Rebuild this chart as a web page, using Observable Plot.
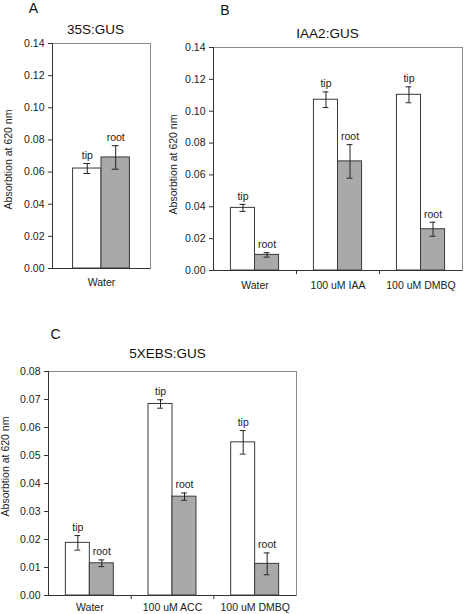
<!DOCTYPE html>
<html>
<head>
<meta charset="utf-8">
<script src="https://cdn.jsdelivr.net/npm/d3@7"></script>
<script src="https://cdn.jsdelivr.net/npm/@observablehq/plot@0.6"></script>
<style>
  html, body { margin: 0; padding: 0; background: #fff; }
  #wrap { position: relative; width: 464px; height: 614px; overflow: hidden; background: #fff; }
  #wrap > div { position: absolute; }
</style>
</head>
<body>
<div id="wrap">
  <div id="pa" style="left:0px;top:0px"></div>
  <div id="pb" style="left:160px;top:0px"></div>
  <div id="pc" style="left:0px;top:310px"></div>
</div>
<script>
// ---- Data ----
const yLabel = "Absorbtion at 620 nm";

const aLetter = "A";
const aTitle = "35S:GUS";
const aCategories = ["Water"];
const aTip = [0.0622];
const aTipErr = [0.0031];
const aRoot = [0.0691];
const aRootErr = [0.0073];
const aYTicks = [0, 0.02, 0.04, 0.06, 0.08, 0.10, 0.12, 0.14];

const bLetter = "B";
const bTitle = "IAA2:GUS";
const bCategories = ["Water", "100 uM IAA", "100 uM DMBQ"];
const bTip = [0.0393, 0.1072, 0.1103];
const bTipErr = [0.0022, 0.0049, 0.0050];
const bRoot = [0.0098, 0.0685, 0.0259];
const bRootErr = [0.0014, 0.0105, 0.0044];
const bYTicks = [0, 0.02, 0.04, 0.06, 0.08, 0.10, 0.12, 0.14];

const cLetter = "C";
const cTitle = "5XEBS:GUS";
const cCategories = ["Water", "100 uM ACC", "100 uM DMBQ"];
const cTip = [0.0188, 0.0684, 0.0547];
const cTipErr = [0.0026, 0.0015, 0.0042];
const cRoot = [0.0115, 0.0353, 0.0113];
const cRootErr = [0.0012, 0.0013, 0.0039];
const cYTicks = [0, 0.01, 0.02, 0.03, 0.04, 0.05, 0.06, 0.07, 0.08];

const seriesLabels = ["tip", "root"];

// ---- Drawing ----
const W = 0.29;      // bar width (category units)
const CAP = 0.035;   // half width of error caps
const fmt = d3.format(".2f");

function panel(cfg) {
  const n = cfg.categories.length;
  const rows = cfg.categories.flatMap((c, i) => [
    {i, kind: seriesLabels[0], v: cfg.tip[i], e: cfg.tipErr[i], xa: i - W, xb: i, xc: i - W / 2},
    {i, kind: seriesLabels[1], v: cfg.root[i], e: cfg.rootErr[i], xa: i, xb: i + W, xc: i + W / 2}
  ]);
  const boundaries = d3.range(n - 1).map(i => i + 0.5);
  const ymax = cfg.yTicks[cfg.yTicks.length - 1];
  const marks = [
    Plot.frame({stroke: "#8a8a8a"}),
    Plot.rectY(rows, {filter: d => d.kind === "tip", x1: "xa", x2: "xb", y1: 0, y2: "v", fill: "#ffffff", stroke: "#3a3a3a", strokeWidth: 1}),
    Plot.rectY(rows, {filter: d => d.kind === "root", x1: "xa", x2: "xb", y1: 0, y2: "v", fill: "#a9a9a9", stroke: "#3a3a3a", strokeWidth: 1}),
    Plot.ruleX(rows, {x: "xc", y1: d => d.v - d.e, y2: d => d.v + d.e, stroke: "#222", strokeWidth: 1}),
    Plot.ruleY(rows, {y: d => d.v - d.e, x1: d => d.xc - CAP, x2: d => d.xc + CAP, stroke: "#222", strokeWidth: 1}),
    Plot.ruleY(rows, {y: d => d.v + d.e, x1: d => d.xc - CAP, x2: d => d.xc + CAP, stroke: "#222", strokeWidth: 1}),
    Plot.text(rows, {x: "xc", y: d => d.v + d.e, text: "kind", dy: -8, fontSize: 10.5, fill: "#222"}),
    Plot.ruleY([0], {stroke: "#333"}),
    Plot.ruleX([-0.5], {stroke: "#333"}),
    Plot.axisY({ticks: cfg.yTicks, tickFormat: fmt, tickSize: 4, tickPadding: 4, label: null, stroke: "#333"}),
    Plot.axisX({ticks: d3.range(n), tickFormat: i => cfg.categories[i], tickSize: 0, tickPadding: cfg.xPad, label: null}),
    Plot.text([cfg.letter], {frameAnchor: "top-left", text: d => d, dx: cfg.letterDx, dy: cfg.letterDy, fontSize: 14, fill: "#111", textAnchor: "middle", lineAnchor: "middle"}),
    Plot.text([cfg.title], {frameAnchor: "top", text: d => d, dx: cfg.titleDx, dy: cfg.titleDy, fontSize: 13.5, fill: "#111", textAnchor: "middle", lineAnchor: "middle"}),
    Plot.text([yLabel], {frameAnchor: "left", text: d => d, rotate: -90, dx: cfg.ylDx, dy: cfg.ylDy, fontSize: 10.5, fill: "#222", textAnchor: "middle", lineAnchor: "middle"})
  ];
  if (boundaries.length) {
    marks.push(Plot.axisX({ticks: boundaries, tickSize: 4, tickFormat: () => "", label: null, stroke: "#333"}));
  }
  return Plot.plot({
    width: cfg.width,
    height: cfg.height,
    marginLeft: cfg.ml,
    marginRight: cfg.mr,
    marginTop: cfg.mt,
    marginBottom: cfg.mb,
    x: {type: "linear", domain: [-0.5, n - 0.5]},
    y: {domain: [0, ymax]},
    style: {fontFamily: "'Liberation Sans', Arial, sans-serif", fontSize: "10.5px", color: "#222", background: "transparent", overflow: "visible"},
    marks
  });
}

document.getElementById("pa").appendChild(panel({
  letter: aLetter, title: aTitle, categories: aCategories, tip: aTip, tipErr: aTipErr, root: aRoot, rootErr: aRootErr, yTicks: aYTicks,
  width: 160, height: 305, ml: 52, mr: 10, mt: 43, mb: 37, xPad: 10,
  letterDx: -19, letterDy: -35, titleDx: -6, titleDy: -14, ylDx: -44, ylDy: 3.5
}));
document.getElementById("pb").appendChild(panel({
  letter: bLetter, title: bTitle, categories: bCategories, tip: bTip, tipErr: bTipErr, root: bRoot, rootErr: bRootErr, yTicks: bYTicks,
  width: 304, height: 305, ml: 53, mr: 2, mt: 47, mb: 35, xPad: 11,
  letterDx: 11.5, letterDy: -37, titleDx: -10.5, titleDy: -14, ylDx: -40, ylDy: 5.5
}));
document.getElementById("pc").appendChild(panel({
  letter: cLetter, title: cTitle, categories: cCategories, tip: cTip, tipErr: cTipErr, root: cRoot, rootErr: cRootErr, yTicks: cYTicks,
  width: 310, height: 304, ml: 48, mr: 14, mt: 61, mb: 19, xPad: 8,
  letterDx: 7, letterDy: -37, titleDx: -5, titleDy: -18, ylDx: -43, ylDy: -17
}));
</script>
</body>
</html>
